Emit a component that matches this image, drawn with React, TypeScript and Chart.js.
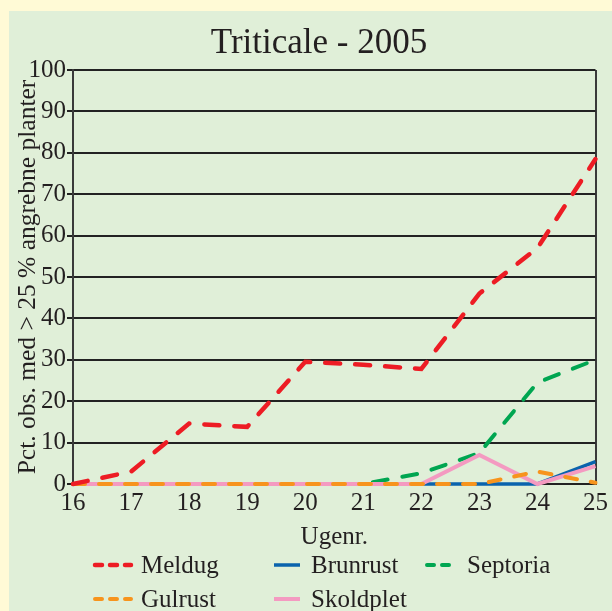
import React, { useEffect, useRef } from "react";
import { Chart, registerables } from "chart.js";

Chart.register(...registerables);

const weeks = ["16", "17", "18", "19", "20", "21", "22", "23", "24", "25"];
const meldug = [0, 3, 14.6, 13.8, 29.5, 28.8, 27.8, 46, 57, 78.5];
const brunrust = [0, 0, 0, 0, 0, 0, 0, 0, 0, 5.4];
const septoria = [0, 0, 0, 0, 0, 0, 2.6, 7.5, 24.5, 30];
const gulrust = [0, 0, 0, 0, 0, 0, 0, 0, 3, 0.3];
const skoldplet = [0, 0, 0, 0, 0, 0, 0, 7, 0, 4.3];

const titleText = "Triticale - 2005";
const yTitle = "Pct. obs. med > 25 % angrebne planter";
const xTitle = "Ugenr.";

const TEXT = "#231f20";
const FONT = "'Liberation Serif', 'DejaVu Serif', serif";

const titlePlugin = {
  id: "customTitle",
  afterDraw(chart: any) {
    const ctx = chart.ctx;
    ctx.save();
    ctx.fillStyle = TEXT;
    ctx.font = `35px ${FONT}`;
    ctx.textAlign = "center";
    ctx.textBaseline = "alphabetic";
    ctx.fillText(titleText, 310, 42);
    ctx.restore();
  },
};

const legendPlugin = {
  id: "customLegend",
  afterDraw(chart: any) {
    const ctx = chart.ctx;
    const ds = chart.data.datasets;
    // [datasetIndex, sample x start, sample length, text x, row y]
    const items: [number, number, number, number, number][] = [
      [0, 86, 36, 132, 555],
      [1, 265, 26, 302, 555],
      [2, 418, 30, 458, 555],
      [3, 86, 36, 132, 589],
      [4, 265, 26, 302, 589],
    ];
    ctx.save();
    for (const [i, x0, len, tx, y] of items) {
      const d = ds[i];
      const dashed = d.borderDash && d.borderDash.length;
      ctx.beginPath();
      ctx.strokeStyle = d.borderColor;
      ctx.lineWidth = d.borderWidth;
      ctx.lineCap = dashed ? "round" : "butt";
      ctx.setLineDash(dashed ? [7, 8] : []);
      const yy = y - 1;
      ctx.moveTo(x0, yy);
      ctx.lineTo(x0 + len, yy);
      ctx.stroke();
      ctx.setLineDash([]);
      ctx.fillStyle = TEXT;
      ctx.font = `25px ${FONT}`;
      ctx.textBaseline = "middle";
      ctx.textAlign = "left";
      ctx.fillText(d.label, tx, y);
    }
    ctx.restore();
  },
};

export default function App() {
  const ref = useRef<HTMLCanvasElement>(null);
  useEffect(() => {
    if (!ref.current) return;
    const chart = new Chart(ref.current, {
      type: "line",
      data: {
        labels: weeks,
        datasets: [
          {
            label: "Meldug",
            data: meldug,
            borderColor: "#ed1c24",
            borderWidth: 4.5,
            borderDash: [15, 15],
            borderCapStyle: "round",
            pointRadius: 0,
            clip: false,
            order: 0,
          },
          {
            label: "Brunrust",
            data: brunrust,
            borderColor: "#0a63ad",
            borderWidth: 3.5,
            pointRadius: 0,
            clip: false,
            order: 4,
          },
          {
            label: "Septoria",
            data: septoria,
            borderColor: "#00a651",
            borderWidth: 4,
            borderDash: [15, 15],
            borderCapStyle: "round",
            pointRadius: 0,
            clip: false,
            order: 3,
          },
          {
            label: "Gulrust",
            data: gulrust,
            borderColor: "#f7941d",
            borderWidth: 4,
            borderDash: [12, 14],
            borderCapStyle: "round",
            pointRadius: 0,
            clip: false,
            order: 1,
          },
          {
            label: "Skoldplet",
            data: skoldplet,
            borderColor: "#f49ac1",
            borderWidth: 4,
            pointRadius: 0,
            clip: false,
            order: 2,
          },
        ],
      },
      options: {
        animation: false,
        responsive: false,
        events: [],
        layout: { padding: { left: 0, right: 13, top: 59, bottom: 59 } },
        plugins: {
          legend: { display: false },
          tooltip: { enabled: false },
          title: { display: false },
        },
        scales: {
          x: {
            type: "category",
            offset: false,
            grid: {
              drawTicks: false,
              lineWidth: 2,
              color: (c: any) => (c.index === weeks.length - 1 ? "#3a3a3a" : "rgba(0,0,0,0)"),
            },
            border: { display: true, color: "#222", width: 2 },
            ticks: {
              color: TEXT,
              font: { family: FONT, size: 25 },
              padding: 4,
              maxRotation: 0,
              autoSkip: false,
            },
            title: {
              display: true,
              text: xTitle,
              color: TEXT,
              font: { family: FONT, size: 25 },
              padding: { top: 0, bottom: 0 },
            },
            afterFit: (s: any) => {
              s.height = 68;
            },
          },
          y: {
            min: 0,
            max: 100,
            grid: { color: "#222", lineWidth: 2, tickLength: 6 },
            border: { display: true, color: "#3a3a3a", width: 2 },
            ticks: {
              stepSize: 10,
              color: TEXT,
              font: { family: FONT, size: 25 },
              padding: 1,
            },
            title: {
              display: true,
              text: yTitle,
              color: TEXT,
              font: { family: FONT, size: 25.5 },
              padding: { top: 4, bottom: 0 },
            },
            afterFit: (s: any) => {
              s.width = 64;
            },
          },
        },
      },
      plugins: [titlePlugin, legendPlugin],
    } as any);
    return () => chart.destroy();
  }, []);

  return (
    <div
      style={{
        position: "absolute",
        left: 0,
        top: 0,
        width: 612,
        height: 611,
        background: "#fffad6",
        overflow: "hidden",
      }}
    >
      <div
        style={{
          position: "absolute",
          left: 9,
          top: 11,
          width: 603,
          height: 600,
          background: "#e0efd8",
        }}
      >
        <canvas ref={ref} width={603} height={600} style={{ display: "block" }} />
      </div>
    </div>
  );
}
